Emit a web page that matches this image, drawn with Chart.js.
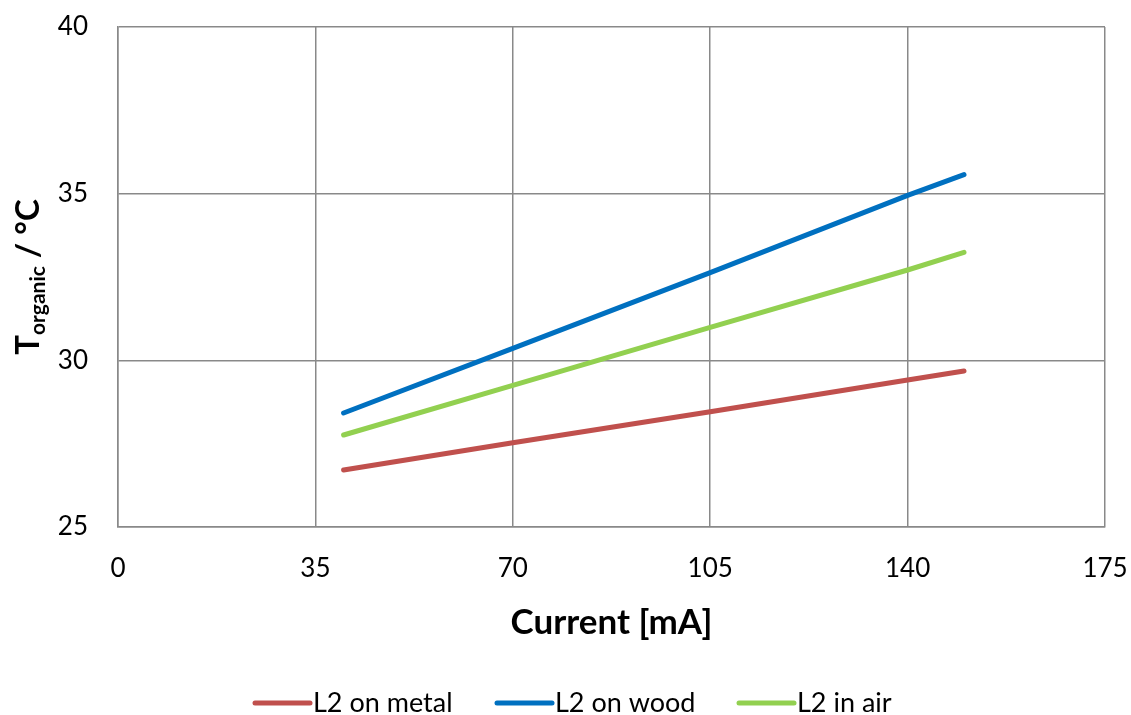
<!DOCTYPE html>
<html>
<head>
<meta charset="utf-8">
<script src="https://cdn.jsdelivr.net/npm/chart.js@4/dist/chart.umd.min.js"></script>
<style>
    html, body { margin: 0; padding: 0; background: #fff; }
    #wrap { width: 1131px; height: 715px; position: relative; }
</style>
</head>
<body>
<div id="wrap"><canvas id="tempChart"></canvas></div>
<script>

// values
const currents = [40, 70, 105, 140, 150];
const onMetal = [26.71, 27.53, 28.46, 29.41, 29.68];
const onWood = [28.42, 30.36, 32.63, 34.95, 35.57];
const inAir = [27.76, 29.25, 30.99, 32.71, 33.24];

const seriesNames = ['L2 on metal', 'L2 on wood', 'L2 in air'];
const xTicks = [0, 35, 70, 105, 140, 175];
const yTicks = [25, 30, 35, 40];

const colors = {
    metal: '#C0504D',
    wood: '#0070C0',
    air: '#92D050',
    grid: '#898989',
    text: '#000000'
};

const fontFamily = "Lato, 'Open Sans', sans-serif";

function toPoints(values) {
    return values.map((v, i) => ({ x: currents[i], y: v }));
}

// axis titles and legend drawn by hand (subscript in y title)
const decorPlugin = {
    id: 'decor',
    afterDraw(chart) {
        const ctx = chart.ctx;
        const area = chart.chartArea;
        ctx.save();
        ctx.fillStyle = colors.text;

        // x title
        ctx.font = 'bold 35px ' + fontFamily;
        ctx.textAlign = 'center';
        ctx.textBaseline = 'alphabetic';
        ctx.fillText('Current [mA]', (area.left + area.right) / 2, 634);

        // y title, rotated
        const bigFont = 'bold 33px ' + fontFamily;
        const subFont = 'bold 21px ' + fontFamily;
        ctx.font = bigFont;
        const wT = ctx.measureText('T').width;
        const wRest = ctx.measureText(' / °C').width;
        ctx.font = subFont;
        const wSub = ctx.measureText('organic').width;
        const total = wT + wSub + wRest;
        ctx.translate(39, (area.top + area.bottom) / 2);
        ctx.rotate(-Math.PI / 2);
        ctx.textAlign = 'left';
        let pos = -total / 2;
        ctx.font = bigFont;
        ctx.fillText('T', pos, 0);
        pos += wT;
        ctx.font = subFont;
        ctx.fillText('organic', pos, 6);
        pos += wSub;
        ctx.font = bigFont;
        ctx.fillText(' / °C', pos, 0);
        ctx.restore();

        // legend
        ctx.save();
        ctx.font = '27px ' + fontFamily;
        ctx.textAlign = 'left';
        ctx.textBaseline = 'middle';
        chart.data.datasets.forEach((ds, i) => {
            const x0 = 255 + i * 242;
            const y0 = 703;
            ctx.strokeStyle = ds.borderColor;
            ctx.lineWidth = 5;
            ctx.lineCap = 'round';
            ctx.beginPath();
            ctx.moveTo(x0, y0);
            ctx.lineTo(x0 + 55, y0);
            ctx.stroke();
            ctx.fillStyle = colors.text;
            ctx.fillText(ds.label, x0 + 58, y0);
        });
        ctx.restore();
    }
};

function makeDataset(label, values, color) {
    return {
        label: label,
        data: toPoints(values),
        borderColor: color,
        backgroundColor: color,
        borderWidth: 5,
        borderCapStyle: 'round',
        pointRadius: 0,
        tension: 0,
        fill: false
    };
}

const ctx = document.getElementById('tempChart');
new Chart(ctx, {
    type: 'line',
    data: {
        datasets: [
            makeDataset(seriesNames[0], onMetal, colors.metal),
            makeDataset(seriesNames[1], onWood, colors.wood),
            makeDataset(seriesNames[2], inAir, colors.air)
        ]
    },
    options: {
        responsive: true,
        maintainAspectRatio: false,
        animation: false,
        layout: { padding: 0 },
        plugins: {
            legend: { display: false },
            tooltip: { enabled: false }
        },
        scales: {
            x: {
                type: 'linear',
                min: xTicks[0],
                max: xTicks[xTicks.length - 1],
                afterBuildTicks: scale => { scale.ticks = xTicks.map(v => ({ value: v })); },
                afterFit: scale => {
                    scale.height = 188;
                    scale.paddingLeft = 0;
                    scale.paddingRight = 26;
                },
                grid: { color: colors.grid, lineWidth: 1.5, drawTicks: false },
                border: { color: colors.grid, width: 1.5 },
                ticks: {
                    padding: 26,
                    color: colors.text,
                    font: { family: fontFamily, size: 26 }
                }
            },
            y: {
                type: 'linear',
                min: yTicks[0],
                max: yTicks[yTicks.length - 1],
                afterBuildTicks: scale => { scale.ticks = yTicks.map(v => ({ value: v })); },
                afterFit: scale => {
                    scale.width = 118;
                    scale.paddingTop = 27;
                    scale.paddingBottom = 0;
                },
                grid: { color: colors.grid, lineWidth: 1.5, drawTicks: false },
                border: { color: colors.grid, width: 1.5 },
                ticks: {
                    padding: 30,
                    color: colors.text,
                    font: { family: fontFamily, size: 26 }
                }
            }
        }
    },
    plugins: [decorPlugin]
});
</script>
</body>
</html>
